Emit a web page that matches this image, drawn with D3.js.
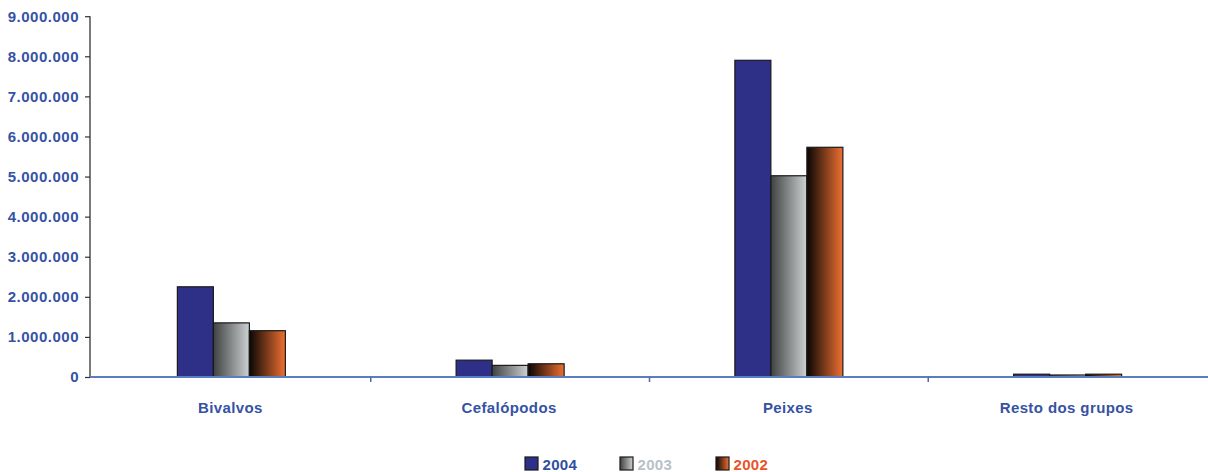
<!DOCTYPE html>
<html><head><meta charset="utf-8">
<script src="https://cdn.jsdelivr.net/npm/d3@7"></script>
<style>body{margin:0;background:#fff}svg{display:block}</style>
</head><body>
<script>
const categories = ["Bivalvos", "Cefalópodos", "Peixes", "Resto dos grupos"];
const seriesNames = ["2004", "2003", "2002"];
const values2004 = [2250000, 420000, 7900000, 70000];
const values2003 = [1350000, 290000, 5020000, 50000];
const values2002 = [1155000, 330000, 5730000, 70000];
const yTicks = [0,1000000,2000000,3000000,4000000,5000000,6000000,7000000,8000000,9000000];
const seriesValues = [values2004, values2003, values2002];

const W = 1208, H = 472;
const FONT = "Liberation Sans, Arial, sans-serif";
const svg = d3.select("body").append("svg").attr("width", W).attr("height", H);
const defs = svg.append("defs");
const g1 = defs.append("linearGradient").attr("id","g2003").attr("x1","0").attr("x2","1").attr("y1","0").attr("y2","0");
g1.append("stop").attr("offset","0%").attr("stop-color","#3e4242");
g1.append("stop").attr("offset","100%").attr("stop-color","#cdd1d1");
const g2 = defs.append("linearGradient").attr("id","g2002").attr("x1","0").attr("x2","1").attr("y1","0").attr("y2","0");
g2.append("stop").attr("offset","0%").attr("stop-color","#0a0604");
g2.append("stop").attr("offset","100%").attr("stop-color","#ee7032");
const fills = ["#2e2f86", "url(#g2003)", "url(#g2002)"];
const legendText = ["#2f4fa0", "#b9c1c9", "#e8542a"];

const x0 = 92, x1 = 1207, yTop = 16.2, yBot = 377;
const x = d3.scaleBand().domain(categories).range([x0, x1]).paddingInner(0).paddingOuter(0);
const y = d3.scaleLinear().domain([0, 9000000]).range([yBot, yTop]);
const groupW = 108;
const xs = d3.scaleBand().domain(seriesNames).range([0, groupW]).padding(0);

const fmt = v => d3.format(",")(v).replace(/,/g, ".");

// y axis
const yAxis = svg.append("g").attr("transform", `translate(${x0 - 2},0)`)
  .call(d3.axisLeft(y).tickValues(yTicks).tickFormat(fmt).tickSize(5).tickPadding(6));
yAxis.select(".domain").attr("stroke", "#333").attr("stroke-width", 1.3).attr("d", `M0,${yTop}H0V${yBot}`);
yAxis.selectAll(".tick line").attr("stroke", "#333").attr("stroke-width", 1.2);
yAxis.selectAll("text").attr("fill", "#3552a4").attr("font-family", FONT)
  .attr("font-weight", "bold").attr("font-size", 15).attr("letter-spacing", 0.5);

// bars
const groups = svg.append("g").selectAll("g").data(categories).join("g")
  .attr("transform", d => `translate(${x(d) + x.bandwidth()/2 - groupW/2},0)`);
groups.selectAll("rect").data((c, i) => seriesNames.map((s, j) => ({s, j, v: seriesValues[j][i]})))
  .join("rect")
  .attr("x", d => xs(d.s)).attr("width", xs.bandwidth())
  .attr("y", d => y(d.v)).attr("height", d => yBot - y(d.v))
  .attr("fill", d => fills[d.j]).attr("stroke", "#1a1a1a").attr("stroke-width", 1.2);

// x axis
const xAxis = svg.append("g").attr("transform", `translate(0,${yBot})`)
  .call(d3.axisBottom(x).tickSize(0).tickFormat(""));
xAxis.select(".domain").attr("stroke", "#5a7cc0").attr("stroke-width", 2).attr("d", `M${x0 - 2},0H${W}`);
xAxis.selectAll(".tick").remove();
const bounds = categories.slice(1).map(c => x(c));
svg.append("g").selectAll("line").data(bounds).join("line")
  .attr("x1", d => d).attr("x2", d => d).attr("y1", yBot).attr("y2", yBot + 5)
  .attr("stroke", "#4a6aa8").attr("stroke-width", 1.5);
svg.append("g").selectAll("text").data(categories).join("text")
  .attr("x", d => x(d) + x.bandwidth()/2 - 1).attr("y", 413).attr("text-anchor", "middle")
  .attr("fill", "#3552a4").attr("font-family", FONT)
  .attr("font-weight", "bold").attr("font-size", 15).attr("letter-spacing", 0.4).text(d => d);

// legend
const lg = svg.append("g");
const lx = [525, 620, 716];
seriesNames.forEach((s, j) => {
  lg.append("rect").attr("x", lx[j]).attr("y", 457).attr("width", 13).attr("height", 13)
    .attr("fill", fills[j]).attr("stroke", "#1a1a1a").attr("stroke-width", 1.2);
  lg.append("text").attr("x", lx[j] + 17.5).attr("y", 469.5)
    .attr("fill", legendText[j]).attr("font-family", FONT)
    .attr("font-weight", "bold").attr("font-size", 15).attr("letter-spacing", 0.3).text(s);
});
</script>
</body></html>
